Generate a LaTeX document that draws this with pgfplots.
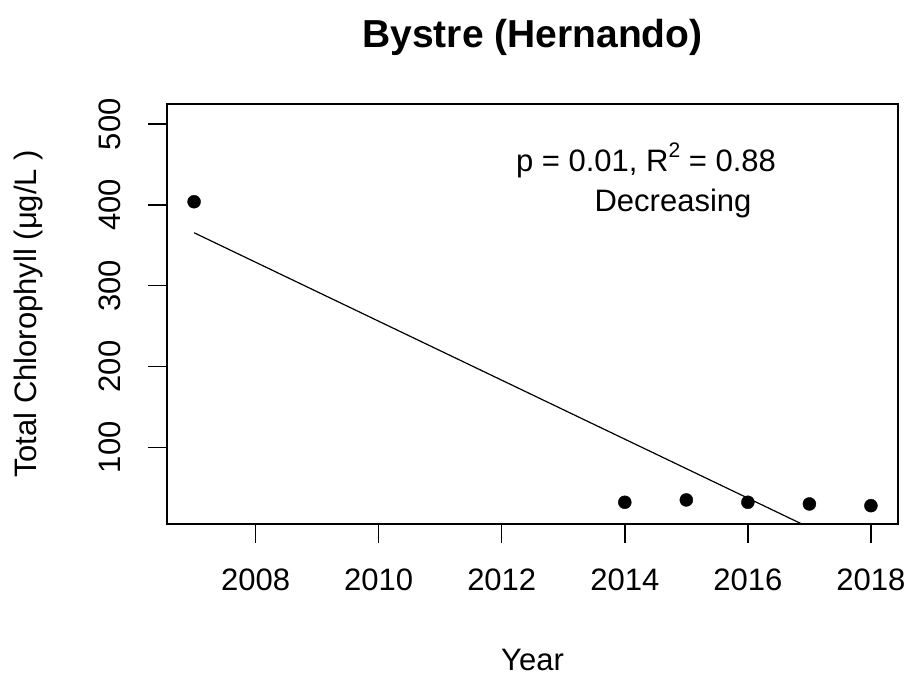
\documentclass[border=0pt]{standalone}
\usepackage{fontspec}
\setmainfont{Liberation Sans}
\usepackage{pgfplots}
\pgfplotsset{compat=1.18}
\begin{document}
\begin{tikzpicture}[x=1pt,y=1pt]
\begin{axis}[
  at={(167pt,155pt)}, anchor=south west,
  scale only axis, width=731pt, height=420pt,
  xmin=2006.56, xmax=2018.44, ymin=5, ymax=525,
  axis line style={line width=1.5pt},
  xtick={2008,2010,2012,2014,2016,2018},
  ytick={100,200,300,400,500},
  xticklabel style={/pgf/number format/1000 sep={}},
  /pgf/number format/assume math mode=true,
  tick style={line width=1.5pt, black},
  major tick length=19pt,
  tick align=outside,
  xtick pos=bottom, ytick pos=left,
  tick label style={font=\fontsize{31}{36}\selectfont},
  xticklabel shift=22pt,
  yticklabel style={rotate=90, anchor=south},
  yticklabel shift=24pt,
  xlabel={Year},
  xlabel style={font=\fontsize{31}{36}\selectfont, at={(axis description cs:0.5,-0.324)}, anchor=center},
  ylabel={Total Chlorophyll (μg/L )},
  ylabel style={font=\fontsize{31}{36}\selectfont, at={(axis description cs:-0.1895,0.5)}, anchor=center},
  title={Bystre (Hernando)},
  title style={font=\bfseries\fontsize{39}{44}\selectfont, at={(axis description cs:0.5,1.145)}, anchor=center},
  clip=true,
]
\addplot[only marks, mark=*, mark size=6.5pt, black] coordinates {
  (2007,404) (2014,31.9) (2015,34.8) (2016,31.9) (2017,29.8) (2018,27.7)
};
\addplot[black, line width=1.2pt] coordinates {(2007,365.6) (2018,-36)};
\end{axis}
\node[font=\fontsize{31}{36}\selectfont, anchor=center] at (646pt,519pt) {p = 0.01, R\raisebox{0.45em}{\fontsize{21}{21}\selectfont 2} = 0.88};
\node[font=\fontsize{31}{36}\selectfont, anchor=center] at (673pt,476pt) {Decreasing};
\pgfresetboundingbox
\path[use as bounding box] (0,0) rectangle (911pt,679pt);
\end{tikzpicture}
\end{document}
